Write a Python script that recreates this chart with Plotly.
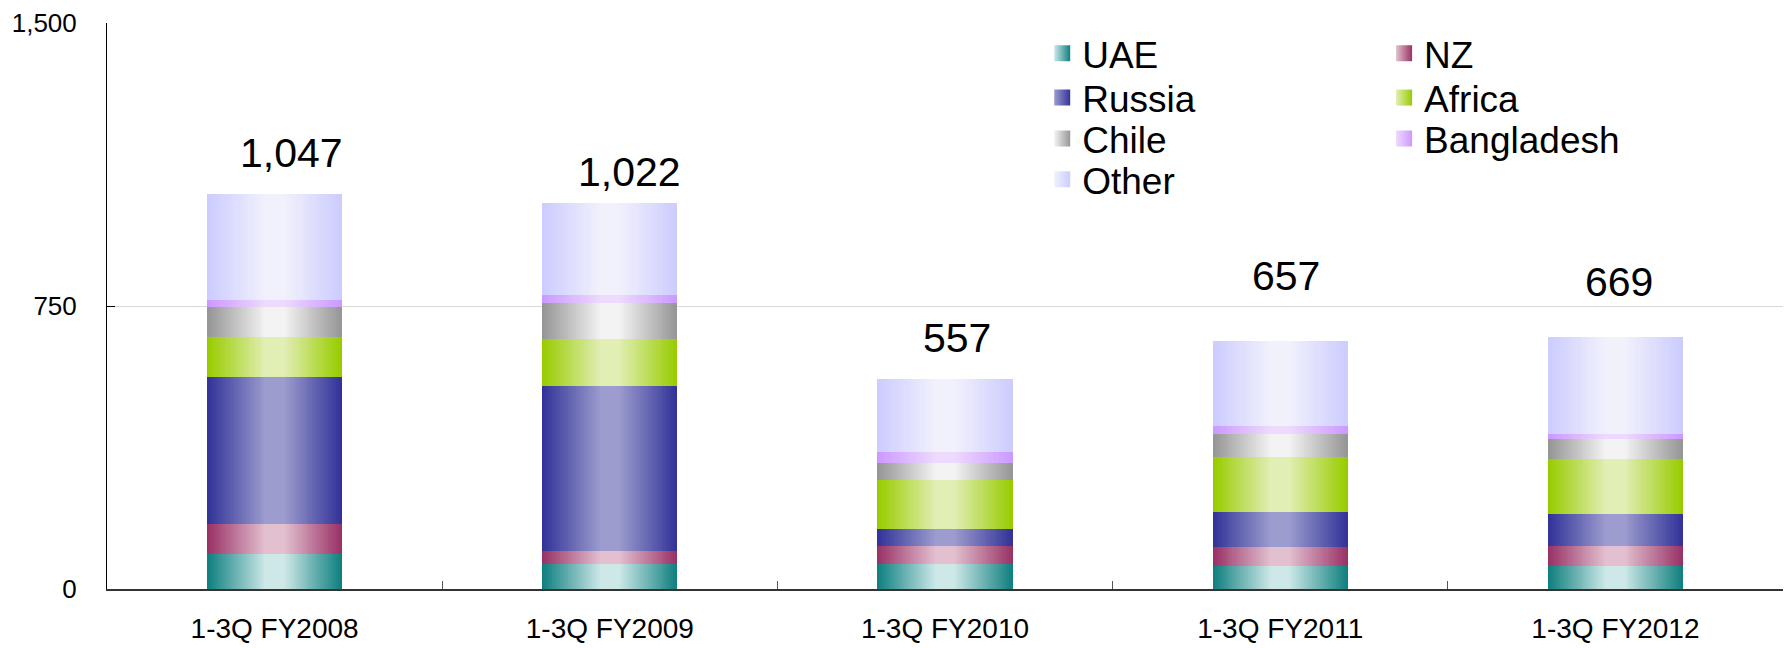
import plotly.graph_objects as go

CATEGORIES = ["1-3Q FY2008", "1-3Q FY2009", "1-3Q FY2010", "1-3Q FY2011", "1-3Q FY2012"]
SERIES_NAMES = ["UAE", "NZ", "Russia", "Africa", "Chile", "Bangladesh", "Other"]
UAE = [94, 65, 66, 61, 60]
NZ = [77, 37, 47, 49, 53]
RUSSIA = [391, 436, 45, 93, 87]
AFRICA = [105, 124, 130, 148, 145]
CHILE = [81, 95, 45, 61, 53]
BANGLADESH = [17, 23, 29, 21, 13]
OTHER = [282, 242, 195, 224, 258]
TOTALS = [1047, 1022, 557, 657, 669]
Y_TICKS = [0, 750, 1500]

FONT = "Liberation Sans, Arial, sans-serif"
BAR_WIDTH = 0.403
GRADIENT_STEPS = 30
# edge colour, centre colour of each stacked segment
PALETTE = {
    "UAE": ((16, 128, 128), (206, 232, 232)),
    "NZ": ((153, 51, 102), (226, 192, 208)),
    "Russia": ((51, 51, 153), (156, 156, 206)),
    "Africa": ((153, 204, 0), (225, 238, 180)),
    "Chile": ((150, 150, 150), (243, 243, 243)),
    "Bangladesh": ((204, 153, 255), (237, 218, 252)),
    "Other": ((204, 204, 255), (241, 241, 252)),
}
# legend grid: two columns, four rows (paper coordinates)
LEGEND_COLUMN_X = [0.558, 0.762]
LEGEND_ROW_Y = [0.9456, 0.8674, 0.7953, 0.7231]
LEGEND_GRID = {
    "UAE": (0, 0), "NZ": (1, 0),
    "Russia": (0, 1), "Africa": (1, 1),
    "Chile": (0, 2), "Bangladesh": (1, 2),
    "Other": (0, 3),
}
LABEL_XSHIFT = [17, 20, 12, 6, 4]
LABEL_YSHIFT = [41, 31, 41, 65, 55]


def mix(edge: tuple[int, ...], centre: tuple[int, ...], t: float) -> str:
    r, g, b = (round(e + (c - e) * t) for e, c in zip(edge, centre))
    return f"rgb({r},{g},{b})"


def add_gradient_segment(fig: go.Figure, name: str, values: list[int], bases: list[int]) -> None:
    # plotly bars have no gradient fill, so stack narrower and lighter bars on top
    edge, centre = PALETTE[name]
    for step in range(GRADIENT_STEPS):
        t = step / (GRADIENT_STEPS - 1)
        fig.add_trace(
            go.Bar(
                x=CATEGORIES,
                y=values,
                base=bases,
                width=BAR_WIDTH * (1 - 0.85 * t),
                marker={"color": mix(edge, centre, t), "line": {"width": 0}},
                showlegend=False,
                hoverinfo="skip",
                name=name,
            )
        )


def add_legend_entry(fig: go.Figure, name: str, legend: str) -> None:
    edge, centre = PALETTE[name]
    fig.add_trace(
        go.Scatter(
            x=[CATEGORIES[0]],
            y=[None],
            mode="markers",
            name=name,
            legend=legend,
            hoverinfo="skip",
            marker={
                "symbol": "square",
                "size": 16,
                "color": mix(edge, centre, 1),
                "gradient": {"type": "horizontal", "color": mix(edge, centre, 0)},
            },
        )
    )


def legend_layout(col: int, row: int) -> dict[str, object]:
    return {
        "x": LEGEND_COLUMN_X[col],
        "y": LEGEND_ROW_Y[row],
        "xanchor": "left",
        "yanchor": "middle",
        "font": {"size": 37, "family": FONT, "color": "black"},
        "bgcolor": "rgba(0,0,0,0)",
    }


series = dict(zip(SERIES_NAMES, [UAE, NZ, RUSSIA, AFRICA, CHILE, BANGLADESH, OTHER]))

fig = go.Figure()
bases = [0] * len(CATEGORIES)
for name, values in series.items():
    add_gradient_segment(fig, name, values, bases)
    bases = [b + v for b, v in zip(bases, values)]

legends = {}
for idx, name in enumerate(SERIES_NAMES):
    key = "legend" if idx == 0 else f"legend{idx + 1}"
    add_legend_entry(fig, name, key)
    legends[key] = legend_layout(*LEGEND_GRID[name])

for cat, total, dx, dy in zip(CATEGORIES, TOTALS, LABEL_XSHIFT, LABEL_YSHIFT):
    fig.add_annotation(
        x=cat,
        y=total,
        text=f"{total:,}",
        showarrow=False,
        xshift=dx,
        yshift=dy,
        yanchor="middle",
        font={"size": 41, "family": FONT, "color": "black"},
    )

fig.update_layout(
    width=1787,
    height=648,
    margin={"l": 107, "r": 4, "t": 23, "b": 57},
    barmode="overlay",
    bargap=0,
    plot_bgcolor="white",
    paper_bgcolor="white",
    font={"family": FONT, "color": "black"},
    **legends,
)
fig.update_xaxes(
    type="category",
    range=[-0.5, len(CATEGORIES) - 0.5],
    showline=True,
    linecolor="#333333",
    linewidth=1.5,
    ticks="inside",
    tickson="boundaries",
    ticklen=8,
    tickcolor="#555555",
    tickfont={"size": 28},
    ticklabelstandoff=14,
    showgrid=False,
)
fig.update_yaxes(
    range=[0, 1500],
    tickvals=Y_TICKS,
    tickformat=",",
    showline=True,
    linecolor="black",
    linewidth=1,
    ticks="inside",
    ticklen=8,
    tickcolor="black",
    tickfont={"size": 26},
    ticklabelstandoff=24,
    showgrid=True,
    gridcolor="#D9D9D9",
    gridwidth=1,
    zeroline=False,
)

# the page body has a default 8px margin; drop it so the figure sits at the corner
fig.write_html(
    "out.html",
    config={"displayModeBar": False},
    post_script="document.body.style.margin = '0';",
)
